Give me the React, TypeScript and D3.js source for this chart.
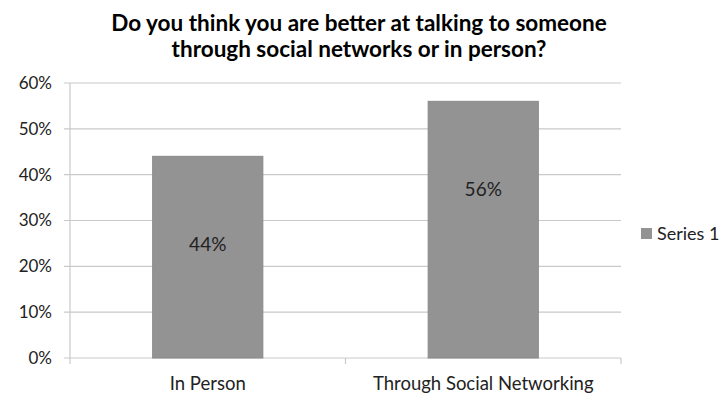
import React from "react";
import * as d3 from "d3";

const title = ["Do you think you are better at talking to someone", "through social networks or in person?"];
const categories = ["In Person", "Through Social Networking"];
const values = [0.44, 0.56];
const yTicks = [0, 0.1, 0.2, 0.3, 0.4, 0.5, 0.6];
const seriesName = "Series 1";

const W = 720, H = 396;
const FONT = "Lato, 'Open Sans', sans-serif";

export default function App() {
  const left = 70, right = 621, top = 83, bottom = 358;
  const x = d3.scaleBand<string>().domain(categories).range([left, right]).paddingInner(0.6).paddingOuter(0.3);
  const xb = d3.scaleBand<string>().domain(categories).range([left, right]);
  const y = d3.scaleLinear().domain([0, 0.6]).range([bottom, top]);
  const fmt = d3.format(".0%");
  const grid = "#c9c9c9";
  return (
    <svg width={W} height={H} style={{ position: "absolute", left: 0, top: 0, background: "#fff" }}>
      <g fontFamily={FONT} fontWeight="bold" fontSize={22.5} fill="#000" textAnchor="middle">
        {title.map((t, i) => (
          <text key={i} x={359} y={31 + i * 26}>{t}</text>
        ))}
      </g>
      {yTicks.map((t) => (
        <g key={t}>
          <line x1={left - 6} x2={right} y1={y(t)} y2={y(t)} stroke={grid} strokeWidth={1.2} />
          <text x={52} y={y(t)} dy="0.35em" textAnchor="end" fontFamily={FONT} fontSize={17} fill="#222">{fmt(t)}</text>
        </g>
      ))}
      <line x1={left} x2={left} y1={top} y2={bottom + 6} stroke={grid} strokeWidth={1.2} />
      {categories.map((c) => (
        <line key={c} x1={(xb(c) as number) + xb.bandwidth()} x2={(xb(c) as number) + xb.bandwidth()} y1={bottom} y2={bottom + 6} stroke={grid} strokeWidth={1.2} />
      ))}
      {categories.map((c, i) => (
        <g key={c}>
          <rect x={x(c)} y={y(values[i])} width={x.bandwidth()} height={bottom - y(values[i])} fill="#939393" stroke="#8a8a8a" strokeWidth={1} />
          <text x={(x(c) as number) + x.bandwidth() / 2} y={y(values[i]) + 88} dy="0.35em" textAnchor="middle" fontFamily={FONT} fontSize={19} fill="#222">{fmt(values[i])}</text>
          <text x={(xb(c) as number) + xb.bandwidth() / 2} y={390} textAnchor="middle" fontFamily={FONT} fontSize={18.5} fill="#222">{c}</text>
        </g>
      ))}
      <rect x={641} y={228} width={11} height={11} fill="#939393" />
      <text x={657} y={234} dy="0.35em" fontFamily={FONT} fontSize={18} fill="#222">{seriesName}</text>
    </svg>
  );
}
